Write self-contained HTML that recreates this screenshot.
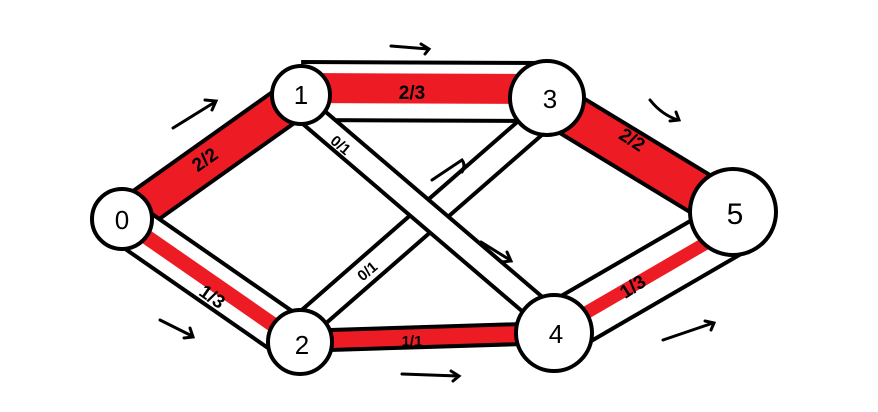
<!DOCTYPE html>
<html><head><meta charset="utf-8"><style>
html,body{margin:0;padding:0;background:#fff;}
svg{display:block;}
text{font-family:"Liberation Sans",sans-serif;fill:#000;}
</style></head><body>
<svg width="878" height="412" viewBox="0 0 878 412">
<g id="edges">
<g>
<line x1="125" y1="220" x2="301" y2="95" stroke="#000" stroke-width="42"/>
<line x1="125" y1="220" x2="301" y2="95" stroke="#ED1C24" stroke-width="34"/>
</g>
<g>
<line x1="125" y1="222" x2="298" y2="342" stroke="#000" stroke-width="48"/>
<line x1="125" y1="222" x2="298" y2="342" stroke="#fff" stroke-width="40"/>
<line x1="125" y1="222" x2="298" y2="342" stroke="#ED1C24" stroke-width="15"/>
</g>
<g>
<line x1="301" y1="91" x2="546" y2="92" stroke="#000" stroke-width="62"/>
<line x1="301" y1="91" x2="546" y2="92" stroke="#fff" stroke-width="54"/>
<line x1="301" y1="88" x2="546" y2="89" stroke="#ED1C24" stroke-width="30"/>
</g>
<g>
<line x1="310" y1="320" x2="545" y2="115" stroke="#000" stroke-width="30"/>
<line x1="310" y1="320" x2="545" y2="115" stroke="#fff" stroke-width="22"/>
</g>
<g>
<line x1="305" y1="110" x2="545" y2="315" stroke="#000" stroke-width="28"/>
<line x1="305" y1="110" x2="545" y2="315" stroke="#fff" stroke-width="20"/>
</g>
<g>
<line x1="298" y1="341" x2="555" y2="333" stroke="#000" stroke-width="24"/>
<line x1="298" y1="341" x2="555" y2="333" stroke="#ED1C24" stroke-width="16"/>
</g>
<g>
<line x1="546" y1="100" x2="732" y2="213" stroke="#000" stroke-width="46"/>
<line x1="546" y1="100" x2="732" y2="213" stroke="#ED1C24" stroke-width="38"/>
</g>
<g>
<line x1="565" y1="325" x2="732" y2="228" stroke="#000" stroke-width="58"/>
<line x1="565" y1="325" x2="732" y2="228" stroke="#fff" stroke-width="50"/>
<line x1="565" y1="325" x2="732" y2="228" stroke="#ED1C24" stroke-width="13"/>
</g>
</g>
<g font-size="19" font-weight="bold">
<text x="205" y="166" text-anchor="middle" transform="rotate(-35 205 160)">2/2</text>
<text x="412" y="99" text-anchor="middle">2/3</text>
<text x="340" y="150" text-anchor="middle" font-size="15" transform="rotate(40 340 146)">0/1</text>
<text x="368" y="276" text-anchor="middle" font-size="15" transform="rotate(-40 368 272)">0/1</text>
<text x="212" y="303" text-anchor="middle" transform="rotate(35 212 297)">1/3</text>
<text x="412" y="346" text-anchor="middle" font-size="15">1/1</text>
<text x="632" y="146" text-anchor="middle" transform="rotate(33 632 140)">2/2</text>
<text x="633" y="293" text-anchor="middle" transform="rotate(-33 633 287)">1/3</text>
</g>
<g stroke="#000" stroke-width="3" fill="none" stroke-linecap="round">
<path d="M173 128 L215 102 M205 100 L216 101 L212 110"/>
<path d="M391 46 L428 49 M421 44 L429 49 L425 54"/>
<path d="M650 100 Q662 115 678 120 M670 121 L679 120 L676 112"/>
<path d="M432 180 L462 160 Q466 165 462 172"/>
<path d="M481 242 L510 260 M501 262 L511 261 L507 252"/>
<path d="M160 320 L192 336 M184 338 L193 337 L190 328"/>
<path d="M402 374 L458 376 M451 371 L459 376 L453 381"/>
<path d="M663 340 L713 323 M705 321 L714 323 L711 330"/>
</g>
<g stroke="#000" stroke-width="4" fill="#fff">
<circle cx="122" cy="219" r="30"/>
<circle cx="301" cy="95" r="29"/>
<circle cx="300" cy="342" r="32"/>
<circle cx="547" cy="98" r="37"/>
<circle cx="554" cy="333" r="38"/>
<circle cx="733" cy="212" r="43"/>
</g>
<g font-size="26" text-anchor="middle">
<text x="122" y="229">0</text>
<text x="301" y="104">1</text>
<text x="302" y="354">2</text>
<text x="550" y="108">3</text>
<text x="556" y="343">4</text>
<text x="735" y="224" font-size="30">5</text>
</g>
</svg>
</body></html>
